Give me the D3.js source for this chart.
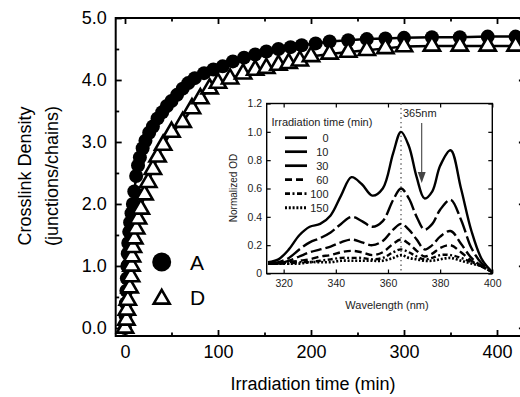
<!DOCTYPE html>
<html><head><meta charset="utf-8">
<script src="https://cdn.jsdelivr.net/npm/d3@7"></script>
<style>body{margin:0;background:#fff}svg{display:block}text{font-family:"Liberation Sans",Arial,sans-serif}</style>
</head><body>
<script>
// ---- main chart data: [time (min), crosslink density] ----
const seriesA_time = [0,0.5,1,1.5,2,2.5,3,3.5,4.5,5.5,7,8.5,10,12,14,16,19,22,26,30,35,40,45,50,56,62,68,75,85,95,105,116,128,140,152,165,178,190,205,220,240,260,280,300,330,360,390,420];
const seriesA_value = [0,0.2,0.4,0.6,0.8,1.0,1.2,1.37,1.55,1.7,1.85,2.0,2.2,2.45,2.62,2.75,2.9,3.02,3.15,3.25,3.38,3.48,3.58,3.66,3.76,3.86,3.95,4.03,4.11,4.17,4.22,4.3,4.36,4.41,4.46,4.5,4.53,4.56,4.59,4.62,4.64,4.66,4.67,4.68,4.69,4.69,4.7,4.7];
const seriesD_time = [0,1.5,2,3,5,6.5,7,7.5,8.5,10,12,14,17,21,25,30,35,41,50,62,72,81,91,100,113,127,140,152,165,176,188,200,220,240,260,280,300,330,360,390,420];
const seriesD_value = [0,0.13,0.29,0.45,0.65,0.83,1.0,1.15,1.3,1.44,1.6,1.76,1.92,2.15,2.35,2.56,2.76,2.95,3.16,3.32,3.54,3.7,3.86,3.95,4.02,4.1,4.16,4.19,4.24,4.27,4.31,4.38,4.42,4.45,4.48,4.51,4.54,4.55,4.55,4.55,4.55];
const mainYTicks = [0,1,2,3,4,5];
const mainXTicks = [0,100,200,300,400];
const legendMain = ["A","D"];

// ---- inset data: normalized OD vs wavelength ----
const wavelength = [314,318,322,326,330,334,338,342,346,350,354,358,362,365,368,371,374,377,380,384,388,392,396,400];
const od_0   = [0.08,0.10,0.17,0.27,0.33,0.35,0.41,0.55,0.68,0.63,0.55,0.60,0.85,1.00,0.90,0.68,0.53,0.58,0.76,0.87,0.60,0.30,0.10,0.01];
const od_10  = [0.07,0.08,0.11,0.17,0.22,0.25,0.29,0.35,0.40,0.37,0.33,0.37,0.52,0.60,0.53,0.40,0.31,0.35,0.45,0.52,0.38,0.18,0.07,0.01];
const od_30  = [0.07,0.07,0.09,0.12,0.15,0.17,0.19,0.22,0.24,0.22,0.20,0.23,0.31,0.35,0.31,0.24,0.17,0.20,0.26,0.30,0.21,0.11,0.05,0.01];
const od_60  = [0.07,0.07,0.08,0.09,0.10,0.12,0.13,0.15,0.16,0.15,0.13,0.15,0.21,0.24,0.21,0.16,0.12,0.14,0.18,0.20,0.15,0.09,0.05,0.01];
const od_100 = [0.07,0.07,0.07,0.08,0.08,0.09,0.10,0.11,0.11,0.11,0.10,0.11,0.15,0.17,0.15,0.12,0.10,0.11,0.13,0.13,0.11,0.08,0.05,0.01];
const od_150 = [0.07,0.07,0.07,0.07,0.08,0.08,0.08,0.09,0.09,0.09,0.09,0.09,0.11,0.13,0.11,0.10,0.09,0.09,0.10,0.11,0.09,0.07,0.05,0.01];
const insetLabels = ["0","10","30","60","100","150"];
const insetXTicks = [320,340,360,380,400];
const insetYTicks = [0,0.2,0.4,0.6,0.8,1.0,1.2];

const W = 520, H = 397;
const svg = d3.select("body").append("svg").attr("width", W).attr("height", H);

// ===== main chart =====
const x = d3.scaleLinear().domain([-10, 430]).range([115.7, 524.9]);
const y = d3.scaleLinear().domain([-0.13, 5.0]).range([336, 18]);
const F = 18;

const g = svg.append("g");
// frame
g.append("rect").attr("x", x(-10)).attr("y", y(5)).attr("width", x(430)-x(-10)).attr("height", y(-0.13)-y(5))
  .attr("fill", "none").attr("stroke", "#000").attr("stroke-width", 2);

function styleAxis(sel){ sel.select(".domain").remove(); sel.selectAll("line").attr("stroke","#000").attr("stroke-width",1.8); }
const minorX = d3.range(50, 430, 100);
const minorY = [0.5,1.5,2.5,3.5,4.5];

g.append("g").attr("transform", `translate(0,${y(-0.13)})`)
  .call(d3.axisBottom(x).tickValues(mainXTicks).tickSize(-6).tickPadding(9).tickFormat(d3.format("d")))
  .call(styleAxis).call(s=>s.selectAll("text").attr("font-size",F).attr("fill","#000").attr("font-family","Liberation Sans, Arial, sans-serif"));
g.append("g").attr("transform", `translate(0,${y(-0.13)})`)
  .call(d3.axisBottom(x).tickValues(minorX).tickSize(-3.5).tickFormat("")).call(styleAxis);
g.append("g").attr("transform", `translate(0,${y(5)})`)
  .call(d3.axisTop(x).tickValues(mainXTicks).tickSize(-6).tickFormat("")).call(styleAxis);
g.append("g").attr("transform", `translate(0,${y(5)})`)
  .call(d3.axisTop(x).tickValues(minorX).tickSize(-3.5).tickFormat("")).call(styleAxis);
g.append("g").attr("transform", `translate(${x(-10)},0)`)
  .call(d3.axisLeft(y).tickValues(mainYTicks).tickSize(-6).tickPadding(9).tickFormat(d3.format(".1f")))
  .call(styleAxis).call(s=>s.selectAll("text").attr("font-size",F).attr("fill","#000").attr("font-family","Liberation Sans, Arial, sans-serif"));
g.append("g").attr("transform", `translate(${x(-10)},0)`)
  .call(d3.axisLeft(y).tickValues(minorY).tickSize(-3.5).tickFormat("")).call(styleAxis);
g.append("g").attr("transform", `translate(${x(430)},0)`)
  .call(d3.axisRight(y).tickValues(mainYTicks).tickSize(-6).tickFormat("")).call(styleAxis);

// titles
g.append("text").attr("x", 313).attr("y", 390).attr("text-anchor","middle").attr("font-size",F).text("Irradiation time (min)");
g.append("text").attr("transform","translate(31,176) rotate(-90)").attr("text-anchor","middle").attr("font-size",F).text("Crosslink Density");
g.append("text").attr("transform","translate(58,176) rotate(-90)").attr("text-anchor","middle").attr("font-size",F).text("(junctions/chains)");

// data
const A = seriesA_time.map((t,i)=>[t, seriesA_value[i]]);
const D = seriesD_time.map((t,i)=>[t, seriesD_value[i]]);
const line = d3.line().x(d=>x(d[0])).y(d=>y(d[1]));
g.append("path").datum(A).attr("d", line).attr("fill","none").attr("stroke","#000").attr("stroke-width",2.5);
g.append("path").datum(D).attr("d", line).attr("fill","none").attr("stroke","#000").attr("stroke-width",2.5);
g.append("g").selectAll("circle").data(A).join("circle")
  .attr("cx", d=>x(d[0])).attr("cy", d=>y(d[1])).attr("r", 7).attr("fill","#000");
const tri = d3.symbol().type(d3.symbolTriangle).size(115);
g.append("g").selectAll("path").data(D).join("path")
  .attr("transform", d=>`translate(${x(d[0])},${y(d[1])})`).attr("d", tri)
  .attr("fill","#fff").attr("stroke","#000").attr("stroke-width",2.6).attr("stroke-linejoin","miter");

// main legend
g.append("circle").attr("cx",161.7).attr("cy",262).attr("r",9.5).attr("fill","#000");
g.append("path").attr("transform","translate(161.7,299)").attr("d", d3.symbol().type(d3.symbolTriangle).size(110)())
  .attr("fill","#fff").attr("stroke","#000").attr("stroke-width",2.6);
g.append("text").attr("x",190).attr("y",269.5).attr("font-size",21).text(legendMain[0]);
g.append("text").attr("x",190).attr("y",304.5).attr("font-size",21).text(legendMain[1]);

// ===== inset =====
const xi = d3.scaleLinear().domain([313.5, 400]).range([266.7, 492.3]);
const yi = d3.scaleLinear().domain([0, 1.2]).range([273.5, 103.5]);
const ig = svg.append("g");
ig.append("rect").attr("x", xi(313.5)).attr("y", yi(1.2)).attr("width", xi(400)-xi(313.5)).attr("height", yi(0)-yi(1.2))
  .attr("fill","#fff").attr("stroke","#000").attr("stroke-width",1.4);
const fi = 10.5;
function styleI(sel){ sel.select(".domain").remove(); sel.selectAll("line").attr("stroke","#000").attr("stroke-width",1.2); sel.selectAll("text").attr("font-size",fi).attr("fill","#222").attr("font-family","Liberation Sans, Arial, sans-serif"); }
ig.append("g").attr("transform",`translate(0,${yi(0)})`)
  .call(d3.axisBottom(xi).tickValues(insetXTicks).tickSize(-4).tickPadding(6).tickFormat(d3.format("d"))).call(styleI);
ig.append("g").attr("transform",`translate(0,${yi(1.2)})`)
  .call(d3.axisTop(xi).tickValues(insetXTicks).tickSize(-4).tickFormat("")).call(styleI);
ig.append("g").attr("transform",`translate(${xi(313.5)},0)`)
  .call(d3.axisLeft(yi).tickValues(insetYTicks).tickSize(-4).tickPadding(4.5).tickFormat(d=> d===0 ? "0" : d3.format(".1f")(d))).call(styleI);
ig.append("g").attr("transform",`translate(${xi(400)},0)`)
  .call(d3.axisRight(yi).tickValues(insetYTicks).tickSize(-4).tickFormat("")).call(styleI);

ig.append("text").attr("x",387).attr("y",309).attr("text-anchor","middle").attr("font-size",11).attr("fill","#222").text("Wavelength (nm)");
ig.append("text").attr("transform","translate(237,188) rotate(-90)").attr("text-anchor","middle").attr("font-size",10).attr("fill","#222").text("Normalized OD");

// 365 nm marker
ig.append("line").attr("x1",xi(365)).attr("x2",xi(365)).attr("y1",yi(1.2)).attr("y2",yi(0))
  .attr("stroke","#777").attr("stroke-width",1.6).attr("stroke-dasharray","1.4,3.2");
ig.append("text").attr("x",403).attr("y",117).attr("font-size",11).attr("fill","#222").text("365nm");
ig.append("line").attr("x1",421.7).attr("x2",421.7).attr("y1",123).attr("y2",174).attr("stroke","#444").attr("stroke-width",1.1);
ig.append("path").attr("d","M417.7,172 L425.7,172 L421.7,183 Z").attr("fill","#444");

const odSeries = [od_0, od_10, od_30, od_60, od_100, od_150];
const dashes = [null, "16,4", "11,4", "7,4", "5,2.5,2,2.5", "2,1.8"];
const widths = [2.4, 2.4, 2.4, 2.4, 2.4, 2.6];
const iline = d3.line().x((d,i)=>xi(wavelength[i])).y(d=>yi(d)).curve(d3.curveCatmullRom.alpha(0.5));
odSeries.forEach((s,k)=>{
  ig.append("path").datum(s).attr("d", iline).attr("fill","none").attr("stroke","#000")
    .attr("stroke-width", widths[k]).attr("stroke-dasharray", dashes[k]);
});
// inset legend
ig.append("text").attr("x",271.5).attr("y",125.5).attr("font-size",11).attr("fill","#222").text("Irradiation time (min)");
insetLabels.forEach((lab,k)=>{
  const yy = 137.7 + k*14;
  ig.append("line").attr("x1",285).attr("x2",307).attr("y1",yy).attr("y2",yy).attr("stroke","#000")
    .attr("stroke-width", widths[k]+0.3).attr("stroke-dasharray", k===1||k===2 ? null : dashes[k]);
  ig.append("text").attr("x",328.5).attr("y",yy+4).attr("text-anchor","end").attr("font-size",11).attr("fill","#222").text(lab);
});
</script>
</body></html>
